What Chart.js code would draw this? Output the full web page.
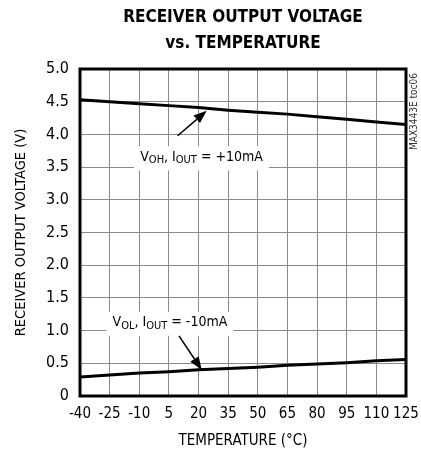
<!DOCTYPE html>
<html>
<head>
<meta charset="utf-8">
<script src="https://cdn.jsdelivr.net/npm/chart.js@4/dist/chart.umd.min.js"></script>
<style>
  html, body { margin: 0; padding: 0; background: #fff; }
  #wrap { width: 421px; height: 454px; }
</style>
</head>
<body>
<div id="wrap"><canvas id="tocChart" width="421" height="454"></canvas></div>
<script>
// data
const temps = [-40, -25, -10, 5, 20, 35, 50, 65, 80, 95, 110, 125];
const vohValues = [4.53, 4.50, 4.47, 4.44, 4.41, 4.37, 4.34, 4.31, 4.27, 4.23, 4.19, 4.15];
const volValues = [0.29, 0.32, 0.35, 0.37, 0.40, 0.42, 0.44, 0.47, 0.49, 0.51, 0.54, 0.56];
const xTicks = [-40, -25, -10, 5, 20, 35, 50, 65, 80, 95, 110, 125];
const yTicks = [0, 0.5, 1.0, 1.5, 2.0, 2.5, 3.0, 3.5, 4.0, 4.5, 5.0];

const FONT = '"Liberation Sans Narrow", "DejaVu Sans Condensed", "Roboto Condensed", sans-serif';

// annotation labels + arrows (in data units)
const notes = [
    { sub: 'OH', x: -9.5, y: 3.65, tail: [9.4, 3.98], head: [24.1, 4.36], current: '+10mA' },
    { sub: 'OL', x: -23.5, y: 1.12, tail: [10.1, 0.92], head: [21.6, 0.40], current: '-10mA' }
];

function toPoints(values) {
    return temps.map((t, i) => ({ x: t, y: values[i] }));
}

// draws "V_OH, I_OUT = +10mA" style text, returns width
function drawNoteText(ctx, n, x, y, measureOnly) {
    const big = '14px ' + FONT;
    const small = '11px ' + FONT;
    const parts = [
        ['V', big, 0], [n.sub, small, 1], [', ', big, 0],
        ['I', big, 0], ['OUT', small, 1], [' = ' + n.current, big, 0]
    ];
    let cx = x;
    parts.forEach(p => {
        ctx.font = p[1];
        if (!measureOnly) ctx.fillText(p[0], cx, y + (p[2] ? 3 : 0));
        cx += ctx.measureText(p[0]).width;
    });
    return cx - x;
}

function drawArrow(ctx, x1, y1, x2, y2) {
    const ang = Math.atan2(y2 - y1, x2 - x1);
    const len = 13, half = 5;
    const bx = x2 - len * Math.cos(ang), by = y2 - len * Math.sin(ang);
    ctx.beginPath();
    ctx.moveTo(x1, y1);
    ctx.lineTo(bx, by);
    ctx.lineWidth = 1.5;
    ctx.strokeStyle = '#000';
    ctx.stroke();
    ctx.beginPath();
    ctx.moveTo(x2, y2);
    ctx.lineTo(bx + half * Math.sin(ang), by - half * Math.cos(ang));
    ctx.lineTo(bx - half * Math.sin(ang), by + half * Math.cos(ang));
    ctx.closePath();
    ctx.fillStyle = '#000';
    ctx.fill();
}

const notesPlugin = {
    id: 'notes',
    beforeDatasetsDraw(chart) {
        const ctx = chart.ctx, xs = chart.scales.x, ys = chart.scales.y;
        ctx.save();
        ctx.textBaseline = 'middle';
        ctx.textAlign = 'left';
        notes.forEach(n => {
            const px = xs.getPixelForValue(n.x), py = ys.getPixelForValue(n.y);
            const w = drawNoteText(ctx, n, px, py, true);
            ctx.fillStyle = '#fff';
            ctx.fillRect(px - 6, py - 11, w + 12, 24);
            ctx.fillStyle = '#000';
            drawNoteText(ctx, n, px, py, false);
        });
        ctx.restore();
    },
    afterDatasetsDraw(chart) {
        const ctx = chart.ctx, xs = chart.scales.x, ys = chart.scales.y;
        const a = chart.chartArea;
        ctx.save();
        notes.forEach(n => {
            drawArrow(ctx,
                xs.getPixelForValue(n.tail[0]), ys.getPixelForValue(n.tail[1]),
                xs.getPixelForValue(n.head[0]), ys.getPixelForValue(n.head[1]));
        });
        // frame
        ctx.lineWidth = 3;
        ctx.strokeStyle = '#000';
        ctx.strokeRect(a.left, a.top, a.right - a.left, a.bottom - a.top);

        // title
        ctx.fillStyle = '#000';
        ctx.textAlign = 'center';
        ctx.textBaseline = 'middle';
        ctx.font = 'bold 17px ' + FONT;
        const cx = (a.left + a.right) / 2;
        ctx.fillText('RECEIVER OUTPUT VOLTAGE', cx, 18);
        ctx.fillText('vs. TEMPERATURE', cx, 44);

        // side code, reads bottom to top
        ctx.translate(414, 150);
        ctx.rotate(-Math.PI / 2);
        ctx.textAlign = 'left';
        ctx.font = '10px ' + FONT;
        ctx.fillStyle = '#333';
        ctx.fillText('MAX3443E toc06', 0, 0);
        ctx.restore();
    }
};

new Chart(document.getElementById('tocChart'), {
    type: 'line',
    data: {
        datasets: [
            { label: 'VOH', data: toPoints(vohValues), borderColor: '#000', borderWidth: 3, pointRadius: 0, tension: 0 },
            { label: 'VOL', data: toPoints(volValues), borderColor: '#000', borderWidth: 3, pointRadius: 0, tension: 0 }
        ]
    },
    options: {
        responsive: false,
        animation: false,
        events: [],
        layout: { padding: { left: 0, right: 15, top: 69, bottom: 0 } },
        plugins: { legend: { display: false }, title: { display: false }, tooltip: { enabled: false } },
        scales: {
            x: {
                type: 'linear',
                min: -40, max: 125,
                afterBuildTicks: s => { s.ticks = xTicks.map(v => ({ value: v })); },
                afterFit: s => { s.height = 58; s.paddingRight = 0; s.paddingLeft = 0; },
                grid: { color: '#8a8a8a', lineWidth: 1, drawTicks: false },
                border: { display: false },
                ticks: { color: '#000', padding: 9, maxRotation: 0, autoSkip: false, font: { family: FONT, size: 15 } },
                title: { display: true, text: 'TEMPERATURE (°C)', color: '#000', padding: { top: 4, bottom: 4 }, font: { family: FONT, size: 15 } }
            },
            y: {
                min: 0, max: 5,
                afterBuildTicks: s => { s.ticks = yTicks.map(v => ({ value: v })); },
                afterFit: s => { s.width = 80; s.paddingTop = 0; s.paddingBottom = 0; },
                grid: { color: '#8a8a8a', lineWidth: 1, drawTicks: false },
                border: { display: false },
                ticks: {
                    color: '#000', padding: 11, autoSkip: false,
                    font: { family: FONT, size: 16 },
                    callback: v => v === 0 ? '0' : v.toFixed(1)
                },
                title: { display: true, text: 'RECEIVER OUTPUT VOLTAGE (V)', color: '#000', padding: { top: 13, bottom: 2 }, font: { family: FONT, size: 14.5 } }
            }
        }
    },
    plugins: [notesPlugin]
});
</script>
</body>
</html>
